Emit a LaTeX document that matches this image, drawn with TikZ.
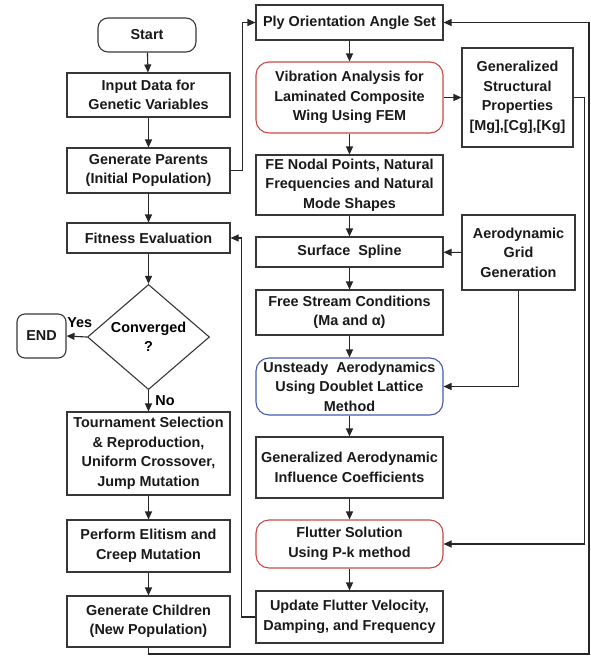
\documentclass[tikz,border=0pt]{standalone}
\usepackage{fontspec}
\setmainfont{Liberation Sans}
\usetikzlibrary{shapes.geometric,arrows.meta,calc}

\begin{document}
\begin{tikzpicture}[
        x=1pt, y=-1pt,
        font=\fontsize{14.4}{19.5}\selectfont\bfseries,
    ]

    \definecolor{boxgray}{RGB}{55,55,55}
    \definecolor{femred}{RGB}{205,70,70}
    \definecolor{dlmblue}{RGB}{70,90,170}

    \tikzstyle{box} = [rectangle, align=center, inner sep=1pt, draw=boxgray,
                       line width=1.1pt, text=black!90];
    \tikzstyle{rbox} = [box, rounded corners=13pt];
    \tikzstyle{decision} = [diamond, align=center, inner sep=0pt, draw=boxgray,
                       line width=1.1pt, minimum width=122pt, minimum height=90pt];
    \tikzstyle{arr} = [-{Triangle[length=8pt,width=7pt]}, line width=1.1pt, draw=black!85];

    \useasboundingbox (0,0) rectangle (591,657);

    % Nodes: GA loop (left)
    \node[rbox, minimum width=98pt, minimum height=34pt, rounded corners=10pt] (start) at (147,35) {Start};
    \node[box, minimum width=163pt, minimum height=44pt] (input) at (148.5,95) {Input Data for\\Genetic Variables};
    \node[box, minimum width=163pt, minimum height=45pt] (parents) at (148.5,170.5) {Generate Parents\\(Initial Population)};
    \node[box, minimum width=163pt, minimum height=30pt] (fitness) at (148.5,238) {Fitness Evaluation};
    \node[decision] (conv) at (148.5,337) {Converged\\?};
    \node[rbox, minimum width=49pt, minimum height=44pt, rounded corners=8pt] (finish) at (41.5,336) {END};
    \node[box, minimum width=163pt, minimum height=83pt] (tourn) at (148.5,453.5) {Tournament Selection\\\& Reproduction,\\Uniform Crossover,\\Jump Mutation};
    \node[box, minimum width=163pt, minimum height=52pt] (elitism) at (148.5,546) {Perform Elitism and\\Creep Mutation};
    \node[box, minimum width=163pt, minimum height=51pt] (children) at (148.5,621.5) {Generate Children\\(New Population)};

    % Nodes: flutter analysis (right)
    \node[box, minimum width=187pt, minimum height=35pt] (ply) at (349.5,22.5) {Ply Orientation Angle Set};
    \node[rbox, draw=femred, minimum width=187pt, minimum height=71pt] (vib) at (349.5,97.5) {Vibration Analysis for\\Laminated Composite\\Wing Using FEM};
    \node[box, minimum width=187pt, minimum height=60pt] (modes) at (349.5,185) {FE Nodal Points, Natural\\Frequencies and Natural\\Mode Shapes};
    \node[box, minimum width=187pt, minimum height=30pt] (spline) at (349.5,252) {Surface\ \ Spline};
    \node[box, minimum width=187pt, minimum height=45pt] (stream) at (349.5,312.5) {Free Stream Conditions\\(Ma and α)};
    \node[rbox, draw=dlmblue, minimum width=187pt, minimum height=57pt] (dlm) at (349.5,386.5) {Unsteady\ \ Aerodynamics\\Using Doublet Lattice\\Method};
    \node[box, minimum width=187pt, minimum height=61pt] (aic) at (349.5,467.5) {Generalized Aerodynamic\\Influence Coefficients};
    \node[rbox, draw=femred, minimum width=187pt, minimum height=48pt] (pk) at (349.5,544) {Flutter Solution\\Using P-k method};
    \node[box, minimum width=187pt, minimum height=52pt] (update) at (349.5,617) {Update Flutter Velocity,\\Damping, and Frequency};

    \node[box, minimum width=111pt, minimum height=99pt] (struct) at (517.5,97.5) {Generalized\\Structural\\Properties\\{}[Mg],[Cg],[Kg]};
    \node[box, minimum width=113pt, minimum height=75pt] (grid) at (518.5,252.5) {Aerodynamic\\Grid\\Generation};

    \coordinate (loopR) at (589,654);

    % Arrows
    \draw[arr] (start) -- (input);
    \draw[arr] (input) -- (parents);
    \draw[arr] (parents) -- (fitness);
    \draw[arr] (fitness) -- (conv);
    \draw[arr] (conv.west) -- (finish.east) node[pos=0.35, above=5pt] {Yes};
    \draw[arr] (conv.south) -- (tourn.north) node[midway, right=3pt] {No};
    \draw[arr] (tourn) -- (elitism);
    \draw[arr] (elitism) -- (children);

    \draw[arr] (ply) -- (vib);
    \draw[arr] (vib) -- (modes);
    \draw[arr] (modes) -- (spline);
    \draw[arr] (spline) -- (stream);
    \draw[arr] (stream) -- (dlm);
    \draw[arr] (dlm) -- (aic);
    \draw[arr] (aic) -- (pk);
    \draw[arr] (pk) -- (update);
    \draw[arr] (vib) -- (struct);
    \draw[arr] (grid) -- (spline);

    % Loop connectors
    \draw[arr] (parents.east) -- ++(12,0) |- (ply.west);
    \draw[arr] (update.west) -- ++(-14,0) |- (fitness.east);
    \draw[arr] (grid.south) |- (dlm.east);
    \draw[arr] (struct.east) -- ++(11,0) |- (pk.east);
    \draw[arr] (children.south) |- (loopR) |- (ply.east);

\end{tikzpicture}
\end{document}
